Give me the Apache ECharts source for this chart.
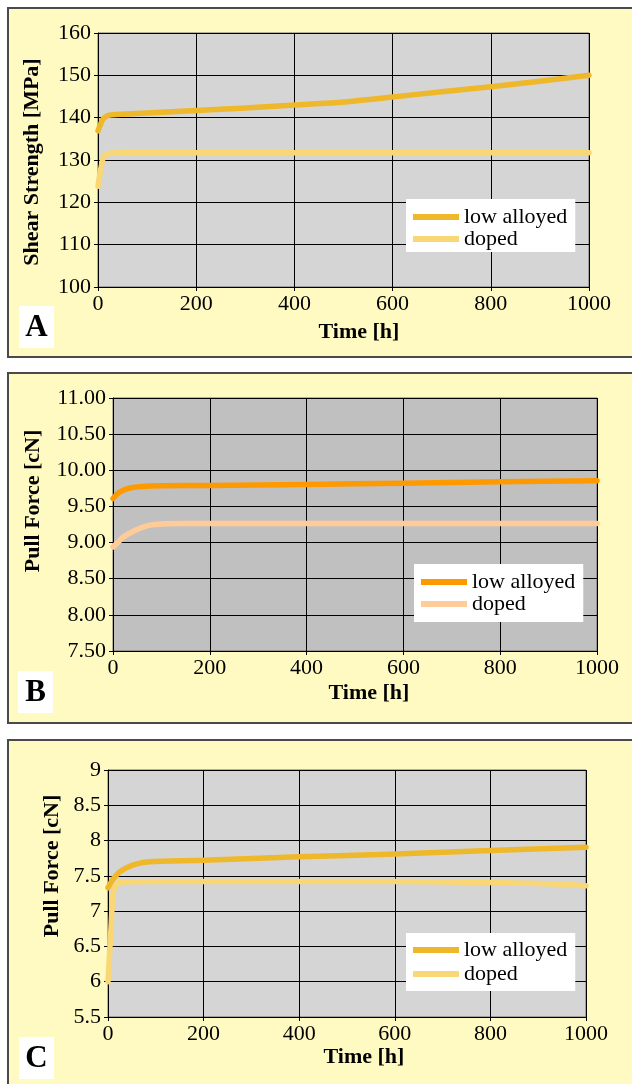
<!DOCTYPE html>
<html>
<head>
<meta charset="utf-8">
<script src="https://cdn.jsdelivr.net/npm/echarts@6/dist/echarts.min.js"></script>
<style>
html,body{margin:0;padding:0;background:#fff;overflow:hidden;}
#wrap{position:relative;width:632px;height:1084px;overflow:hidden;}
.panel{position:absolute;left:7px;width:640px;background:#fffac2;border:2px solid #4a4a4a;box-sizing:border-box;}
#chart{position:absolute;left:0;top:0;width:632px;height:1084px;}
</style>
</head>
<body>
<div id="wrap">
  <div class="panel" style="top:7px;height:351px;"></div>
  <div class="panel" style="top:372px;height:352px;"></div>
  <div class="panel" style="top:739px;height:360px;"></div>
  <div id="chart"></div>
</div>
<script>
// ---- Data ----
const seriesNames = ['low alloyed', 'doped'];
const xTicks = [0, 200, 400, 600, 800, 1000];

// Panel A: Shear Strength [MPa]
const A_lowTime  = [0, 5, 10, 20, 30, 100, 200, 300, 400, 500, 600, 700, 800, 900, 1000];
const A_lowValue = [136.9, 138.4, 139.6, 140.5, 140.7, 141.1, 141.7, 142.3, 143.0, 143.7, 144.9, 146.1, 147.3, 148.6, 150.0];
const A_dopTime  = [0, 5, 10, 15, 25, 50, 1000];
const A_dopValue = [123.8, 127.5, 130.3, 131.2, 131.6, 131.7, 131.7];
const A_yTicks = [100, 110, 120, 130, 140, 150, 160];

// Panel B: Pull Force [cN]
const B_lowTime  = [0, 10, 20, 35, 60, 100, 200, 400, 600, 800, 1000];
const B_lowValue = [9.61, 9.68, 9.72, 9.755, 9.775, 9.785, 9.79, 9.805, 9.82, 9.84, 9.855];
const B_dopTime  = [0, 10, 20, 40, 60, 80, 110, 150, 1000];
const B_dopValue = [8.94, 9.0, 9.07, 9.15, 9.21, 9.245, 9.262, 9.265, 9.265];
const B_yTicks = ['7.50', '8.00', '8.50', '9.00', '9.50', '10.00', '10.50', '11.00'];

// Panel C: Pull Force [cN]
const C_lowTime  = [0, 8, 15, 25, 40, 60, 85, 200, 400, 600, 800, 1000];
const C_lowValue = [7.33, 7.43, 7.49, 7.56, 7.62, 7.67, 7.70, 7.72, 7.77, 7.81, 7.86, 7.905];
const C_dopTime  = [0, 5, 10, 15, 25, 100, 600, 750, 850, 950, 1000];
const C_dopValue = [6.0, 6.6, 7.2, 7.35, 7.41, 7.42, 7.42, 7.41, 7.40, 7.38, 7.36];
const C_yTicks = ['5.5', '6', '6.5', '7', '7.5', '8', '8.5', '9'];

// ---- Chart ----
const FONT = "'Liberation Serif', 'DejaVu Serif', serif";
const pair = (t, v) => t.map((x, i) => [x, v[i]]);

const grids = [
  {left: 98, top: 33, width: 491, height: 254, bg: '#d5d5d5'},
  {left: 113, top: 398, width: 484, height: 253, bg: '#c0c0c0'},
  {left: 108, top: 770, width: 478, height: 247, bg: '#d5d5d5'}
];
const yRanges = [
  {min: 100, max: 160, interval: 10, fmt: v => String(v)},
  {min: 7.5, max: 11, interval: 0.5, fmt: v => v.toFixed(2)},
  {min: 5.5, max: 9, interval: 0.5, fmt: v => String(v)}
];
const colors = [
  ['#efb82a', '#f9d774'],
  ['#ff9900', '#ffcc99'],
  ['#efb82a', '#f9d774']
];
const seriesData = [
  [pair(A_lowTime, A_lowValue), pair(A_dopTime, A_dopValue)],
  [pair(B_lowTime, B_lowValue), pair(B_dopTime, B_dopValue)],
  [pair(C_lowTime, C_lowValue), pair(C_dopTime, C_dopValue)]
];
const legendBoxes = [
  {left: 406, top: 199, padding: [7, 8, 2, 7], gap: 0},
  {left: 414, top: 564, padding: [7, 8, 7, 7], gap: 0},
  {left: 406, top: 933, padding: [6, 8, 6, 7], gap: 2}
];

const option = {
  animation: false,
  backgroundColor: 'transparent',
  grid: grids.map(g => ({
    left: g.left, top: g.top, width: g.width, height: g.height,
    show: true, backgroundColor: g.bg, borderColor: '#6a6a6a', borderWidth: 1
  })),
  xAxis: grids.map((g, i) => ({
    gridIndex: i, type: 'value', min: xTicks[0], max: xTicks[xTicks.length - 1], interval: 200,
    axisLine: {show: true, onZero: false, lineStyle: {color: '#000', width: 1}},
    axisTick: {show: true, length: 4, lineStyle: {color: '#000'}},
    axisLabel: {color: '#000', fontFamily: FONT, fontSize: 22, margin: 6, formatter: v => String(v)},
    splitLine: {show: true, lineStyle: {color: '#000', width: 1}}
  })),
  yAxis: grids.map((g, i) => ({
    gridIndex: i, type: 'value', min: yRanges[i].min, max: yRanges[i].max, interval: yRanges[i].interval,
    axisLine: {show: true, onZero: false, lineStyle: {color: '#000', width: 1}},
    axisTick: {show: true, length: 4, lineStyle: {color: '#000'}},
    axisLabel: {color: '#000', fontFamily: FONT, fontSize: 22, margin: 7, formatter: yRanges[i].fmt},
    splitLine: {show: true, lineStyle: {color: '#000', width: 1}}
  })),
  legend: legendBoxes.map((b, i) => ({
    left: b.left, top: b.top, orient: 'vertical', padding: b.padding, itemGap: b.gap,
    backgroundColor: '#fff', borderWidth: 0,
    icon: 'rect', itemWidth: 46, itemHeight: 6,
    textStyle: {color: '#000', fontFamily: FONT, fontSize: 22},
    data: seriesNames.map(n => n + '\u200b'.repeat(i)),
    selectedMode: false
  })),
  series: [],
  graphic: []
};

seriesData.forEach((pairs, i) => {
  pairs.forEach((d, j) => {
    option.series.push({
      name: seriesNames[j] + '\u200b'.repeat(i),
      type: 'line', xAxisIndex: i, yAxisIndex: i,
      data: d, smooth: 0.25, showSymbol: false, symbol: 'none',
      color: colors[i][j],
      lineStyle: {color: colors[i][j], width: 5.5, cap: 'round', join: 'round'},
      z: 3 - j
    });
  });
});

const letters = [
  {t: 'A', x: 19, y: 306},
  {t: 'B', x: 18, y: 671},
  {t: 'C', x: 19, y: 1037}
];
letters.forEach(l => {
  option.graphic.push({type: 'rect', left: l.x, top: l.y, shape: {width: 35, height: 42}, style: {fill: '#fff'}, z: 100});
  option.graphic.push({type: 'text', x: l.x + 17.5, y: l.y + 22, z: 101,
    style: {text: l.t, font: "bold 31px " + FONT, fill: '#000', align: 'center', verticalAlign: 'middle'}});
});
const yTitles = [
  {t: 'Shear Strength [MPa]', x: 32, y: 162},
  {t: 'Pull Force [cN]', x: 33, y: 501},
  {t: 'Pull Force [cN]', x: 52, y: 866}
];
yTitles.forEach(l => {
  option.graphic.push({type: 'text', x: l.x, y: l.y, rotation: Math.PI / 2, z: 101,
    style: {text: l.t, font: "bold 22px " + FONT, fill: '#000', align: 'center', verticalAlign: 'middle'}});
});
const xTitles = [
  {x: 359, y: 332}, {x: 369, y: 693}, {x: 364, y: 1057}
];
xTitles.forEach(l => {
  option.graphic.push({type: 'text', x: l.x, y: l.y, z: 101,
    style: {text: 'Time [h]', font: "bold 22px " + FONT, fill: '#000', align: 'center', verticalAlign: 'middle'}});
});

const chart = echarts.init(document.getElementById('chart'), null, {renderer: 'canvas'});
chart.setOption(option);
</script>
</body>
</html>
